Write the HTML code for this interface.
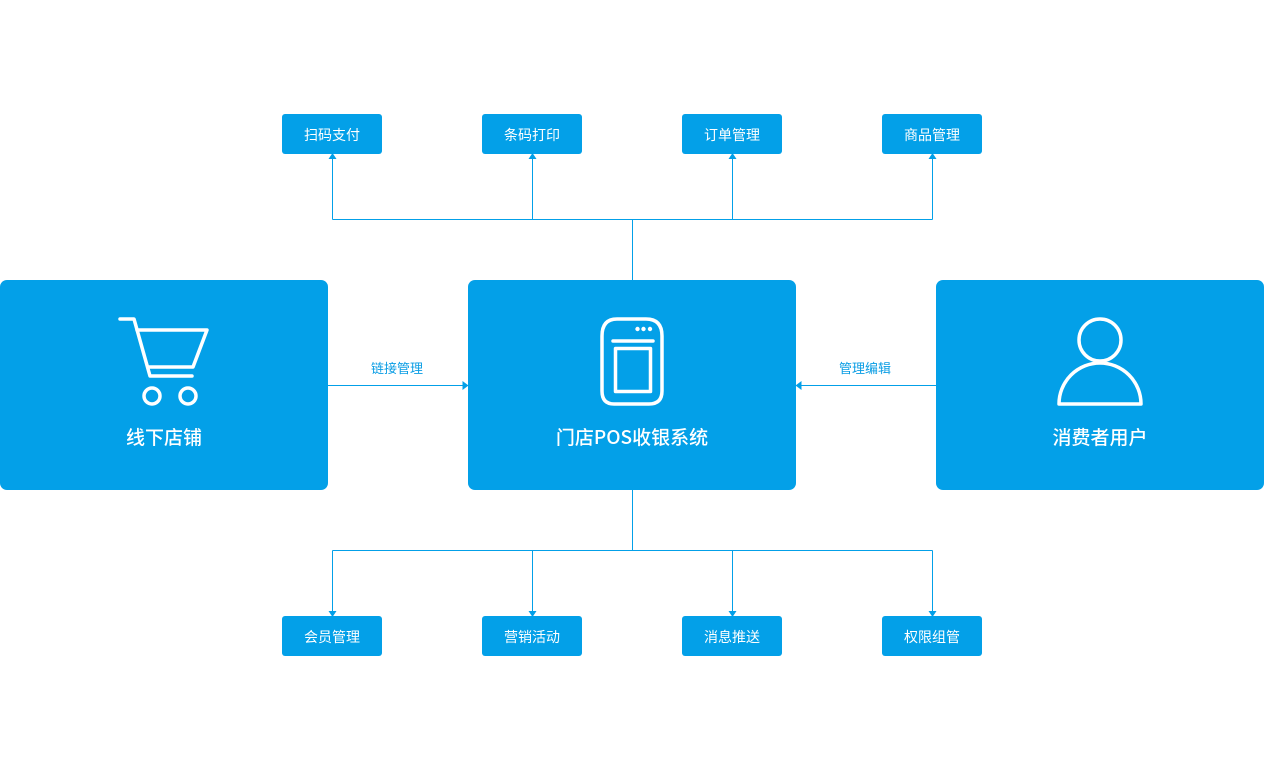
<!DOCTYPE html>
<html><head><meta charset="utf-8"><style>
html,body{margin:0;padding:0;background:#fff;}
body{width:1264px;height:770px;position:relative;overflow:hidden;font-family:"Noto Sans CJK SC","Liberation Sans",sans-serif;}
.big{position:absolute;top:280px;width:328px;height:210px;background:#03a0e8;border-radius:7px;}
.lbl{position:absolute;left:0;width:100%;text-align:center;top:145px;color:#fff;font-size:19px;font-weight:500;line-height:24px;}
.sm{position:absolute;width:100px;height:40px;background:#03a0e8;border-radius:3px;color:#fff;font-size:14px;line-height:42px;text-align:center;}
.cl{position:absolute;color:#0a9de4;font-size:13px;line-height:16px;width:80px;text-align:center;}
svg{position:absolute;left:0;top:0;}
</style></head><body>
<div class="big" style="left:0"><div class="lbl">线下店铺</div></div>
<div class="big" style="left:468px"><div class="lbl">门店POS收银系统</div></div>
<div class="big" style="left:936px"><div class="lbl">消费者用户</div></div>

<div class="sm" style="left:282px;top:114px">扫码支付</div>
<div class="sm" style="left:482px;top:114px">条码打印</div>
<div class="sm" style="left:682px;top:114px">订单管理</div>
<div class="sm" style="left:882px;top:114px">商品管理</div>
<div class="sm" style="left:282px;top:616px">会员管理</div>
<div class="sm" style="left:482px;top:616px">营销活动</div>
<div class="sm" style="left:682px;top:616px">消息推送</div>
<div class="sm" style="left:882px;top:616px">权限组管</div>

<div class="cl" style="left:357px;top:360px">链接管理</div>
<div class="cl" style="left:825px;top:360px">管理编辑</div>

<svg width="1264" height="770" viewBox="0 0 1264 770">
 <g stroke="#03a0e8" stroke-width="1" fill="none">
  <path d="M632.5 280V219.5M332.5 219.5H932.5M332.5 219.5V158M532.5 219.5V158M732.5 219.5V158M932.5 219.5V158"/>
  <path d="M632.5 490V550.5M332.5 550.5H932.5M332.5 550.5V612M532.5 550.5V612M732.5 550.5V612M932.5 550.5V612"/>
  <path d="M328 385.5H464M936 385.5H800"/>
 </g>
 <g fill="#03a0e8">
  <path d="M332.5 153L328.5 159H336.5Z"/>
  <path d="M532.5 153L528.5 159H536.5Z"/>
  <path d="M732.5 153L728.5 159H736.5Z"/>
  <path d="M932.5 153L928.5 159H936.5Z"/>
  <path d="M332.5 617L328.5 611H336.5Z"/>
  <path d="M532.5 617L528.5 611H536.5Z"/>
  <path d="M732.5 617L728.5 611H736.5Z"/>
  <path d="M932.5 617L928.5 611H936.5Z"/>
  <path d="M468.5 385.5L462.5 381V390Z"/>
  <path d="M795.5 385.5L801.5 381V390Z"/>
 </g>
 <g stroke="#fff" stroke-width="3.5" fill="none" stroke-linecap="round" stroke-linejoin="round">
  <path d="M120 319H134L150 376H192"/>
  <path d="M137 330H207L193 367H149"/>
  <circle cx="152" cy="396" r="8"/>
  <circle cx="188" cy="396" r="8"/>
  <path d="M617 319H646Q662 319 662 336V391Q662 404 649 404H614Q602 404 602 391V336Q602 319 617 319Z"/>
  <path d="M613 341H653"/>
  <rect x="615.5" y="348.5" width="35" height="43"/>
  <circle cx="1100" cy="340" r="21"/>
  <path d="M1059 404A41 41 0 0 1 1141 404Z"/>
 </g>
 <g fill="#fff">
  <circle cx="637.5" cy="329" r="2.2"/>
  <circle cx="643.5" cy="329" r="2.2"/>
  <circle cx="650" cy="329" r="2.2"/>
 </g>
</svg>
</body></html>
